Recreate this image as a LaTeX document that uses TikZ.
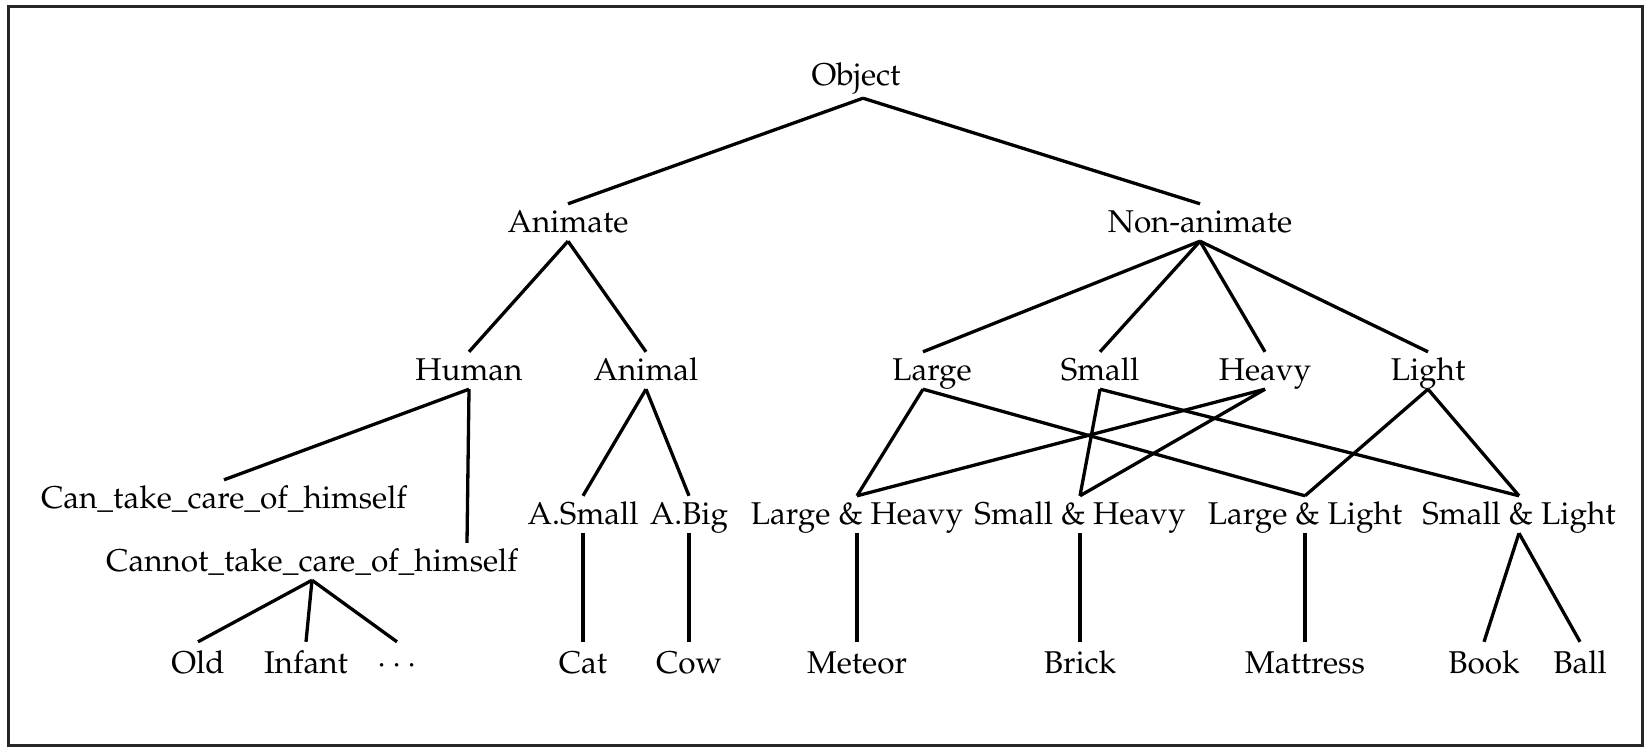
\documentclass[tikz,border=0pt]{standalone}
\usepackage[T1]{fontenc}
\usepackage{mathpazo}
\begin{document}
\begin{tikzpicture}[x=1pt,y=-1pt]
          \tikzstyle{every node}=[anchor=base,inner xsep=2pt,inner ysep=6pt,text height=22pt,text depth=3pt,font=\fontsize{31.5}{38}\selectfont];
          \tikzstyle{leaf}=[inner ysep=9pt];
          \useasboundingbox (0,0) rectangle (1648,747);
          \draw[line width=3pt,black!85] (8,6) rectangle (1642,745);
          %\node (name) at (x,baseline) {text};
          \node (Object) at (856,85) [inner ysep=10pt] {Object};
          \node (Animate) at (568,232) {Animate};
          \node (Nonanimate) at (1200,232) {Non-animate};
          \node (Human) at (469,380) {Human};
          \node (Animal) at (646,380) {Animal};
          \node (Large) at (932,380) {Large};
          \node (Small) at (1100,380) {Small};
          \node (Heavy) at (1265,380) {Heavy};
          \node (Light) at (1428,380) {Light};
          \node (Can) at (224,508) {Can\_take\_care\_of\_himself};
          \node (Cannot) at (312,571) {Cannot\_take\_care\_of\_himself};
          \node (ASmall) at (583,524) {A.Small};
          \node (ABig) at (689,524) {A.Big};
          \node (LargeHeavy) at (857,524) {Large \& Heavy};
          \node (SmallHeavy) at (1080,524) {Small \& Heavy};
          \node (LargeLight) at (1305,524) {Large \& Light};
          \node (SmallLight) at (1519,524) {Small \& Light};
          \node (Old) at (198,673) [leaf] {Old};
          \node (Infant) at (306,673) [leaf] {Infant};
          \node (Dots) at (397,673) [leaf] {$\cdots$};
          \node (Cat) at (583,673) [leaf] {Cat};
          \node (Cow) at (689,673) [leaf] {Cow};
          \node (Meteor) at (857,673) [leaf] {Meteor};
          \node (Brick) at (1080,673) [leaf] {Brick};
          \node (Mattress) at (1305,673) [leaf] {Mattress};
          \node (Book) at (1484,673) [leaf] {Book};
          \node (Ball) at (1580,673) [leaf] {Ball};
          %edges
          \draw[line width=3.3pt] ([xshift=7pt]Object.south)--(Animate.north);
          \draw[line width=3.3pt] ([xshift=7pt]Object.south)--(Nonanimate.north);
          \draw[line width=3.3pt] (Animate.south)--(Human.north);
          \draw[line width=3.3pt] (Animate.south)--(Animal.north);
          \draw[line width=3.3pt] (Nonanimate.south)--([xshift=-9pt]Large.north);
          \draw[line width=3.3pt] (Nonanimate.south)--(Small.north);
          \draw[line width=3.3pt] (Nonanimate.south)--(Heavy.north);
          \draw[line width=3.3pt] (Nonanimate.south)--(Light.north);
          \draw[line width=3.3pt] (Human.south)--(Can.north);
          \draw[line width=3.3pt] (Human.south)--([xshift=155pt]Cannot.north);
          \draw[line width=3.3pt] (Cannot.south)--(Old.north);
          \draw[line width=3.3pt] (Cannot.south)--(Infant.north);
          \draw[line width=3.3pt] (Cannot.south)--(Dots.north);
          \draw[line width=3.3pt] (Animal.south)--(ASmall.north);
          \draw[line width=3.3pt] (Animal.south)--(ABig.north);
          \draw[line width=3.3pt] (ASmall.south)--(Cat.north);
          \draw[line width=3.3pt] (ABig.south)--(Cow.north);
          \draw[line width=3.3pt] ([xshift=-9pt]Large.south)--(LargeHeavy.north);
          \draw[line width=3.3pt] ([xshift=-9pt]Large.south)--(LargeLight.north);
          \draw[line width=3.3pt] (Small.south)--(SmallHeavy.north);
          \draw[line width=3.3pt] (Small.south)--(SmallLight.north);
          \draw[line width=3.3pt] (Heavy.south)--(LargeHeavy.north);
          \draw[line width=3.3pt] (Heavy.south)--(SmallHeavy.north);
          \draw[line width=3.3pt] (Light.south)--(LargeLight.north);
          \draw[line width=3.3pt] (Light.south)--(SmallLight.north);
          \draw[line width=3.3pt] (LargeHeavy.south)--(Meteor.north);
          \draw[line width=3.3pt] (SmallHeavy.south)--(Brick.north);
          \draw[line width=3.3pt] (LargeLight.south)--(Mattress.north);
          \draw[line width=3.3pt] (SmallLight.south)--(Book.north);
          \draw[line width=3.3pt] (SmallLight.south)--(Ball.north);
      \end{tikzpicture}
\end{document}
